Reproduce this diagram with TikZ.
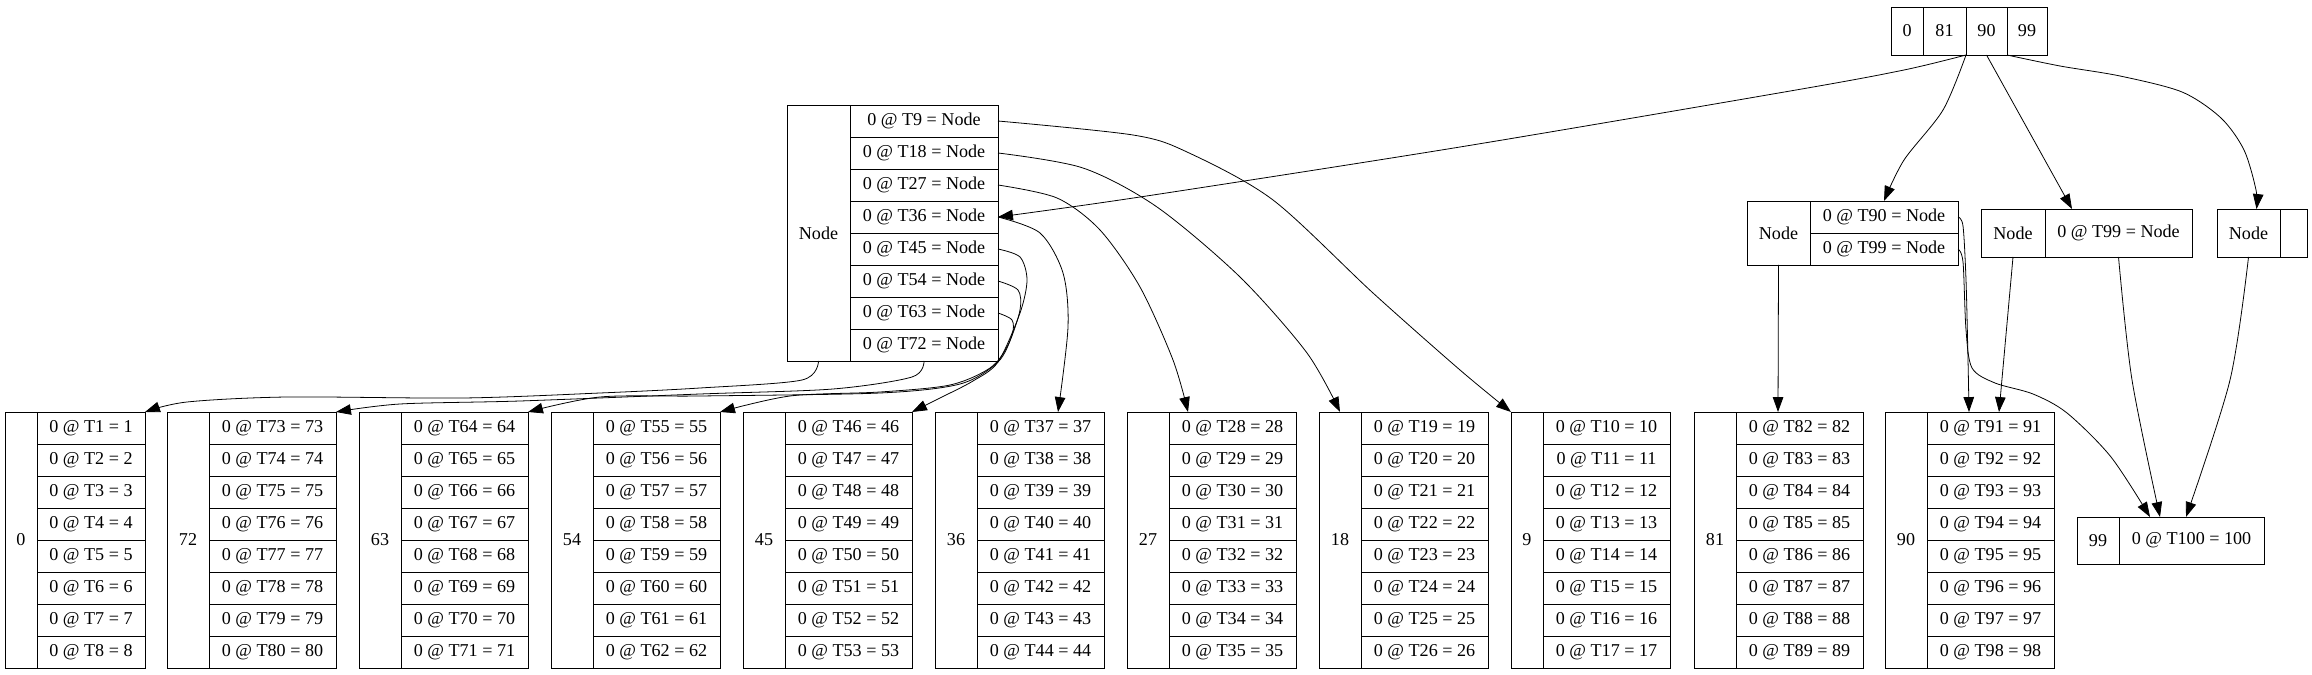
\documentclass[tikz,border=0pt]{standalone}
\usepackage{fontspec}
\setmainfont{Liberation Serif}
\usetikzlibrary{arrows.meta,calc}
\tikzset{
  rec/.style={draw, line width=0.5pt, inner sep=0pt, outer sep=0pt, font=\fontsize{10.3}{12}\selectfont},
  edge/.style={line width=0.45pt, -{Triangle[length=8.5pt,width=6pt]}},
}
\newcommand\rcell[6]{\node[rec, minimum width={(#4-(#2))*0.02cm}, minimum height={(#5-(#3))*0.02cm}] (#1) at ({(#2+#4)/2},{(#3+#5)/2}) {#6};}
\newcommand\leaf[6]{%
  \rcell{#1}{#2}{412}{#3}{668}{#5}
  \foreach \k in {1,...,8}{%
    \pgfmathtruncatemacro\vv{#6+\k-1}%
    \pgfmathtruncatemacro\ya{412+32*(\k-1)}%
    \pgfmathtruncatemacro\yb{\ya+32}%
    \rcell{#1r\k}{#3}{\ya}{#4}{\yb}{0 @ T\vv{} = \vv}
  }%
}
\begin{document}
\begin{tikzpicture}[x=0.02cm,y=-0.02cm]
\fill[white] (0,0) rectangle (2312,675);
\useasboundingbox (0,0) rectangle (2312,675);

% root
\rcell{r0}{1891}{7}{1923}{55}{0}
\rcell{r81}{1923}{7}{1966}{55}{81}
\rcell{r90}{1966}{7}{2007}{55}{90}
\rcell{r99}{2007}{7}{2047}{55}{99}

% big inner node
\rcell{B}{787}{105}{850}{361}{Node}
\foreach \k/\t in {1/9,2/18,3/27,4/36,5/45,6/54,7/63,8/72}{%
  \pgfmathtruncatemacro\ya{105+32*(\k-1)}%
  \pgfmathtruncatemacro\yb{\ya+32}%
  \rcell{B\k}{850}{\ya}{998}{\yb}{0 @ T\t{} = Node}
}

% mid nodes
\rcell{M1}{1747}{201}{1810}{265}{Node}
\rcell{M1r1}{1810}{201}{1958}{233}{0 @ T90 = Node}
\rcell{M1r2}{1810}{233}{1958}{265}{0 @ T99 = Node}
\rcell{M2}{1981}{209}{2045}{257}{Node}
\rcell{M2r1}{2045}{209}{2192}{257}{0 @ T99 = Node}
\rcell{M3}{2217}{209}{2280}{257}{Node}
\rcell{M3r1}{2280}{209}{2307}{257}{}

% leaves
\leaf{L0}{5}{37}{145}{0}{1}
\leaf{L72}{167}{209}{336}{72}{73}
\leaf{L63}{359}{401}{528}{63}{64}
\leaf{L54}{551}{593}{720}{54}{55}
\leaf{L45}{743}{785}{912}{45}{46}
\leaf{L36}{935}{977}{1104}{36}{37}
\leaf{L27}{1127}{1169}{1296}{27}{28}
\leaf{L18}{1319}{1361}{1488}{18}{19}
\leaf{L9}{1511}{1543}{1670}{9}{10}
\leaf{L81}{1694}{1736}{1863}{81}{82}
\leaf{L90}{1885}{1927}{2054}{90}{91}
\rcell{N99}{2077}{517}{2119}{564}{99}
\rcell{N99b}{2119}{517}{2264}{564}{0 @ T100 = 100}

% named end points
\coordinate (t2) at ($(M2r1.north west)+(27,0)$);
\coordinate (t3) at ($(M3.north)+(8,0)$);
\coordinate (t27) at ($(L27r1.north west)+(19,0)$);
\coordinate (t36) at ($(L36r1.north west)+(81,0)$);
\coordinate (t81) at ($(L81r1.north west)+(42,0)$);
\coordinate (t90a) at ($(L90r1.north west)+(42,0)$);
\coordinate (t90b) at ($(L90r1.north west)+(72,0)$);
\coordinate (t99a) at ($(N99b.north west)+(31,0)$);
\coordinate (t99b) at ($(N99b.north west)+(41,0)$);
\coordinate (t99c) at ($(N99b.north west)+(67,0)$);

% root edges
\draw[edge] plot[smooth] coordinates {(r90.south west) (1904,70) (1796,90) (1460,147) (1140,197) (B4.east)};
\draw[edge] plot[smooth] coordinates {(r90.south west) (1943,110) (1904,160) (M1r1.north)};
\draw[edge] (r90.south) -- (t2);
\draw[edge] plot[smooth] coordinates {(r90.south east) (2060,66) (2120,76) (2182,92) (2221,118) (2244,150) (2256,190) (t3)};

% big node edges
\draw[edge] plot[smooth] coordinates {(B1.east) (1133,135) (1187,152) (1273,200) (1373,293) (1460,370) (L9.north west)};
\draw[edge] plot[smooth] coordinates {(B2.east) (1083,168) (1157,207) (1240,277) (1307,353) (L18.north)};
\draw[edge] plot[smooth] coordinates {(B3.east) (1057,198) (1100,230) (1140,287) (1173,360) (t27)};
\draw[edge] plot[smooth] coordinates {(B4.east) (1040,233) (1063,273) (1068,327) (t36)};
\draw[edge] plot[smooth] coordinates {(B5.east) (1020,257) (1027,280) (1020,313) (998,362) (973,381) (940,398) (L45r1.north east)};
\draw[edge] plot[smooth] coordinates {(B6.east) (1018,290) (1020,310) (1008,345) (990,368) (950,385) (880,392) (790,396) (L54r1.north east)};
\draw[edge] plot[smooth] coordinates {(B7.east) (1012,320) (1012,335) (998,362) (960,384) (880,393) (700,396) (600,397) (L63r1.north east)};
\draw[edge] plot[smooth] coordinates {(B.south) (802,380) (700,388) (600,393) (463,398) (287,397) (187,402) (L0r1.north east)};
\draw[edge] plot[smooth] coordinates {(B8.south) (912,377) (833,389) (700,394) (520,401) (400,404) (L72r1.north east)};

% right side edges
\draw[edge] (M1.south) -- (t81);
\draw[edge] plot[smooth] coordinates {(M1r1.east) (1963,226) (1966,280) (1968,360) (t90a)};
\draw[edge] plot[smooth] coordinates {(M1r2.east) (1963,262) (1966,330) (1972,368) (1995,383) (2033,394) (2067,413) (2111,457) (t99a)};
\draw[edge] (M2.south) -- (t90b);
\draw[edge] plot[smooth] coordinates {(M2r1.south) (2132,380) (t99b)};
\draw[edge] plot[smooth] coordinates {(M3.south) (2230,380) (t99c)};
\end{tikzpicture}
\end{document}
